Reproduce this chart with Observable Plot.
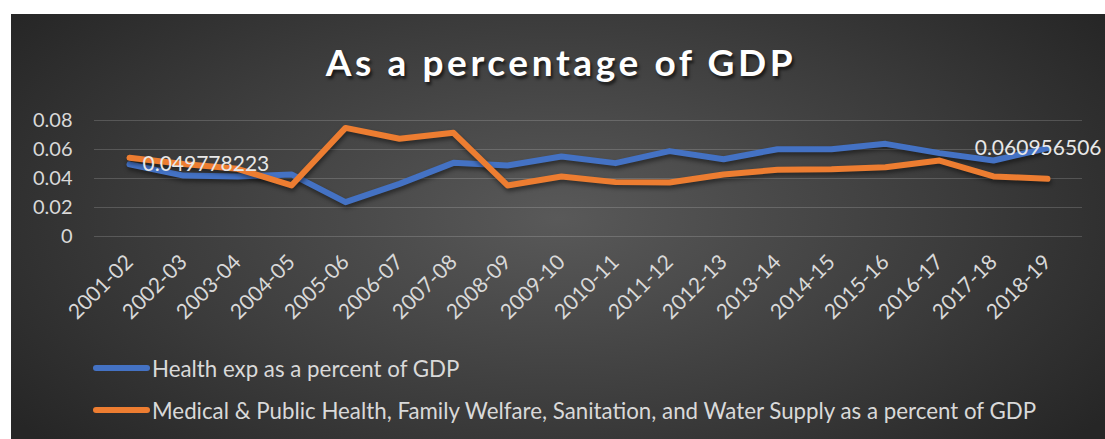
<!DOCTYPE html>
<html><head><meta charset="utf-8">
<script src="https://cdn.jsdelivr.net/npm/d3@7"></script>
<script src="https://cdn.jsdelivr.net/npm/@observablehq/plot@0.6"></script>
<style>
html,body{margin:0;padding:0;background:#fff;width:1105px;height:439px;overflow:hidden}
#wrap{position:absolute;left:11px;top:14px;width:1094px;height:425px;
  background:radial-gradient(ellipse 62% 80% at 50% 48%, #595959 0%, #3b3b3b 60%, #262626 100%);
  font-family:Lato,sans-serif;color:#d9d9d9;overflow:hidden}
#title{position:absolute;left:0;width:1100px;top:25px;text-align:center;font-weight:bold;font-size:37px;letter-spacing:3.6px;color:#fff;
  text-shadow:2px 3px 3px rgba(0,0,0,0.6);line-height:46px}
#chart{position:absolute;left:0;top:90px}
#chart svg g[aria-label="line"] path{filter:drop-shadow(1px 3px 2px rgba(0,0,0,0.45))}
#chart svg g[aria-label="y-axis tick label"] text{font-size:20px}
#chart svg g[aria-label="x-axis tick label"] text{font-size:21px}
.leg{position:absolute;left:82px;height:26px;display:flex;align-items:center;font-size:22.3px;color:#d9d9d9;white-space:nowrap}
.sw{width:57px;height:6px;border-radius:3px;margin-right:2px}
</style>
</head><body>
<div id="wrap">
  <div id="title">As a percentage of GDP</div>
  <div id="chart"></div>
  <div class="leg" id="leg1" style="top:341px"></div>
  <div class="leg" id="leg2" style="top:383px"></div>
</div>
<script>
const years = ["2001-02","2002-03","2003-04","2004-05","2005-06","2006-07","2007-08","2008-09","2009-10","2010-11","2011-12","2012-13","2013-14","2014-15","2015-16","2016-17","2017-18","2018-19"];
const health = [0.049778223,0.042,0.0414,0.0428,0.0237,0.0363,0.0508,0.049,0.0552,0.0506,0.0589,0.0533,0.0602,0.0602,0.0639,0.0575,0.0524,0.060956506];
const medical = [0.0543,0.050,0.0467,0.0352,0.0749,0.0674,0.0715,0.0352,0.0414,0.0375,0.0372,0.0428,0.046,0.0464,0.0478,0.0524,0.0414,0.0398];
const seriesNames = ["Health exp as a percent of GDP","Medical & Public Health, Family Welfare, Sanitation, and Water Supply as a percent of GDP"];
const seriesColors = ["#4472C4","#ED7D31"];
const yTicks = [0,0.02,0.04,0.06,0.08];
const dataLabels = ["0.049778223","0.060956506"];

const healthData = years.map((y,i)=>({year:y,value:health[i]}));
const medicalData = years.map((y,i)=>({year:y,value:medical[i]}));
const labelData = [
  {year:years[0], value:health[0], text:dataLabels[0]},
  {year:years[years.length-1], value:health[health.length-1], text:dataLabels[1]}
];

const plot = Plot.plot({
  width:1094, height:230,
  marginTop:16, marginBottom:98, marginLeft:83, marginRight:23,
  style:{background:"transparent", color:"#d9d9d9", fontFamily:"Lato,sans-serif", fontSize:"19px"},
  x:{type:"point", domain:years, padding:0.5, label:null},
  y:{domain:[0,0.08], label:null},
  marks:[
    Plot.gridY(yTicks,{stroke:"#ffffff", strokeOpacity:0.17, strokeWidth:1.2}),
    Plot.axisY({ticks:yTicks, tickSize:0, tickPadding:22, label:null, tickFormat:d=>d===0?"0":d.toFixed(2)}),
    Plot.axisX({tickRotate:-45, tickSize:0, tickPadding:10, dy:12, dx:0, label:null}),
    Plot.line(healthData,{x:"year", y:"value", stroke:seriesColors[0], strokeWidth:6, strokeLinejoin:"round", strokeLinecap:"round"}),
    Plot.line(medicalData,{x:"year", y:"value", stroke:seriesColors[1], strokeWidth:6, strokeLinejoin:"round", strokeLinecap:"round"}),
    Plot.text([labelData[0]],{x:"year", y:"value", text:"text", textAnchor:"start", dx:13, fill:"#e8e8e8", fontSize:21}),
    Plot.text([labelData[1]],{x:"year", y:"value", text:"text", textAnchor:"end", dx:54, fill:"#e8e8e8", fontSize:21})
  ]
});
document.getElementById("chart").appendChild(plot);

["leg1","leg2"].forEach((id,i)=>{
  const el = document.getElementById(id);
  const sw = document.createElement("div"); sw.className="sw"; sw.style.background=seriesColors[i];
  const t = document.createElement("span"); t.textContent=seriesNames[i];
  el.appendChild(sw); el.appendChild(t);
});
</script>
</body></html>
